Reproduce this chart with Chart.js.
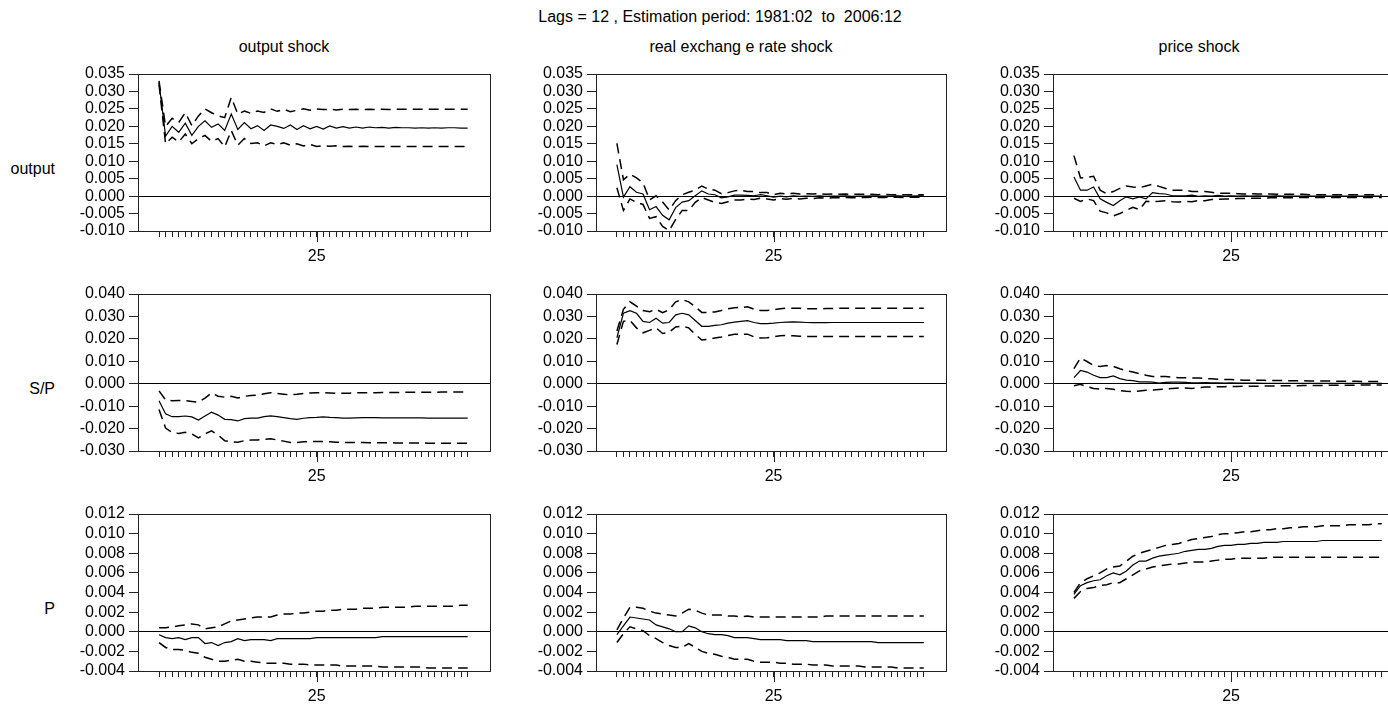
<!DOCTYPE html>
<html>
<head>
<meta charset="utf-8">
<script src="https://cdn.jsdelivr.net/npm/chart.js@4.4.1/dist/chart.umd.min.js"></script>
<style>
  html, body { margin:0; padding:0; background:#fff; width:1388px; height:707px; overflow:hidden; }
  body { position:relative; font-family:'Liberation Sans', Arial, sans-serif; color:#000; }
  .txt { position:absolute; font-size:16px; white-space:pre; line-height:1; }
  .c { transform:translate(-50%,-50%); }
  .r { transform:translate(-100%,-50%); }
  canvas { position:absolute; }
</style>
</head>
<body>
<div class="txt c" style="left:720px;top:17px;">Lags = 12 , Estimation period: 1981:02  to  2006:12</div>
<div class="txt c" style="left:284px;top:47px;">output shock</div>
<div class="txt c" style="left:741px;top:47px;">real exchang e rate shock</div>
<div class="txt c" style="left:1199px;top:47px;">price shock</div>
<div class="txt r" style="left:55px;top:169px;">output</div>
<div class="txt r" style="left:55px;top:389px;">S/P</div>
<div class="txt r" style="left:55px;top:609px;">P</div>
<script>
// ---------- DATA ----------
const periods = [1,2,3,4,5,6,7,8,9,10,11,12,13,14,15,16,17,18,19,20,21,22,23,24,25,26,27,28,29,30,31,32,33,34,35,36,37,38,39,40,41,42,43,44,45,46,47,48];
const xMajorTicks = [25];
const columnTitles = ['output shock', 'real exchang e rate shock', 'price shock'];
const rowLabels = ['output', 'S/P', 'P'];
const yTicksOutput = [-0.010,-0.005,0.000,0.005,0.010,0.015,0.020,0.025,0.030,0.035];
const yTicksSP = [-0.030,-0.020,-0.010,0.000,0.010,0.020,0.030,0.040];
const yTicksP = [-0.004,-0.002,0.000,0.002,0.004,0.006,0.008,0.010,0.012];

// output response to output shock
const out_out = [0.0325,0.0172,0.0200,0.0183,0.0209,0.0174,0.0200,0.0216,0.0197,0.0207,0.0188,0.0235,0.0191,0.0211,0.0193,0.0202,0.0188,0.0204,0.0200,0.0194,0.0204,0.0191,0.0202,0.0193,0.0200,0.0192,0.0201,0.0195,0.0199,0.0195,0.0198,0.0195,0.0198,0.0196,0.0197,0.0195,0.0197,0.0196,0.0196,0.0195,0.0196,0.0195,0.0196,0.0195,0.0196,0.0196,0.0195,0.0195];
const out_out_hi = [0.0330,0.0200,0.0223,0.0211,0.0239,0.0202,0.0230,0.0250,0.0239,0.0230,0.0225,0.0283,0.0235,0.0244,0.0237,0.0244,0.0240,0.0250,0.0243,0.0249,0.0242,0.0246,0.0250,0.0246,0.0250,0.0248,0.0249,0.0247,0.0249,0.0248,0.0249,0.0248,0.0249,0.0248,0.0249,0.0248,0.0249,0.0249,0.0249,0.0249,0.0249,0.0249,0.0249,0.0249,0.0249,0.0249,0.0249,0.0249];
const out_out_lo = [0.0320,0.0150,0.0169,0.0155,0.0178,0.0150,0.0165,0.0174,0.0157,0.0165,0.0141,0.0188,0.0146,0.0165,0.0151,0.0153,0.0144,0.0153,0.0148,0.0153,0.0146,0.0150,0.0144,0.0148,0.0142,0.0145,0.0143,0.0144,0.0142,0.0143,0.0142,0.0143,0.0142,0.0142,0.0142,0.0142,0.0142,0.0142,0.0142,0.0142,0.0142,0.0142,0.0142,0.0142,0.0142,0.0142,0.0142,0.0142];
// output response to real exchange rate shock
const out_rer = [0.0090,-0.0003,0.0027,0.0011,0.0006,-0.0039,-0.0030,-0.0055,-0.0068,-0.0033,-0.0017,-0.0013,0.0001,0.0015,0.0006,0.0004,-0.0005,-0.0002,0.0003,0.0003,0.0002,0.0001,0.0004,0.0001,-0.0003,0.0000,-0.0002,0.0001,-0.0001,0.0000,-0.0001,0.0001,-0.0001,0.0000,0.0000,0.0001,-0.0001,0.0000,0.0000,0.0001,0.0000,0.0000,0.0000,0.0001,0.0000,0.0000,0.0001,0.0001];
const out_rer_hi = [0.0151,0.0047,0.0063,0.0052,0.0038,-0.0011,0.0001,-0.0017,-0.0040,-0.0013,0.0004,0.0011,0.0017,0.0029,0.0020,0.0017,0.0007,0.0010,0.0015,0.0017,0.0013,0.0013,0.0010,0.0010,0.0004,0.0008,0.0006,0.0008,0.0006,0.0007,0.0006,0.0007,0.0005,0.0006,0.0005,0.0006,0.0005,0.0005,0.0005,0.0005,0.0004,0.0005,0.0004,0.0004,0.0004,0.0004,0.0004,0.0004];
const out_rer_lo = [0.0024,-0.0041,-0.0008,-0.0018,-0.0024,-0.0064,-0.0059,-0.0087,-0.0099,-0.0067,-0.0041,-0.0041,-0.0018,-0.0004,-0.0011,-0.0018,-0.0021,-0.0016,-0.0011,-0.0011,-0.0008,-0.0010,-0.0006,-0.0008,-0.0011,-0.0007,-0.0009,-0.0006,-0.0008,-0.0006,-0.0007,-0.0005,-0.0006,-0.0005,-0.0005,-0.0004,-0.0005,-0.0004,-0.0004,-0.0003,-0.0004,-0.0004,-0.0003,-0.0003,-0.0004,-0.0003,-0.0003,-0.0003];
// output response to price shock
const out_prc = [0.0055,0.0017,0.0017,0.0026,-0.0008,-0.0018,-0.0027,-0.0013,-0.0002,-0.0008,-0.0002,-0.0008,0.0010,0.0007,0.0006,0.0001,0.0001,0.0001,0.0003,-0.0001,0.0001,0.0000,0.0002,0.0000,0.0001,0.0000,0.0001,0.0000,0.0001,0.0000,0.0000,0.0001,0.0000,0.0000,0.0000,0.0000,0.0000,0.0000,0.0000,0.0000,0.0000,0.0000,0.0000,0.0000,0.0000,0.0000,0.0000,0.0000];
const out_prc_hi = [0.0116,0.0052,0.0054,0.0057,0.0017,0.0007,0.0013,0.0022,0.0029,0.0026,0.0024,0.0029,0.0034,0.0028,0.0022,0.0017,0.0017,0.0017,0.0013,0.0013,0.0013,0.0011,0.0008,0.0008,0.0008,0.0007,0.0006,0.0007,0.0006,0.0006,0.0006,0.0005,0.0005,0.0005,0.0005,0.0005,0.0004,0.0004,0.0004,0.0004,0.0004,0.0004,0.0004,0.0004,0.0004,0.0004,0.0004,0.0004];
const out_prc_lo = [-0.0006,-0.0015,-0.0008,-0.0013,-0.0043,-0.0048,-0.0057,-0.0050,-0.0041,-0.0032,-0.0039,-0.0015,-0.0016,-0.0015,-0.0013,-0.0016,-0.0017,-0.0015,-0.0016,-0.0013,-0.0013,-0.0010,-0.0009,-0.0008,-0.0008,-0.0007,-0.0007,-0.0006,-0.0006,-0.0006,-0.0005,-0.0005,-0.0005,-0.0005,-0.0004,-0.0004,-0.0004,-0.0004,-0.0004,-0.0004,-0.0004,-0.0004,-0.0004,-0.0004,-0.0004,-0.0004,-0.0004,-0.0004];
// S/P response to output shock
const sp_out = [-0.0076,-0.0134,-0.0147,-0.0147,-0.0144,-0.0148,-0.0162,-0.0144,-0.0127,-0.0140,-0.0159,-0.0160,-0.0166,-0.0156,-0.0153,-0.0153,-0.0147,-0.0143,-0.0147,-0.0151,-0.0156,-0.0159,-0.0154,-0.0151,-0.0150,-0.0148,-0.0150,-0.0151,-0.0153,-0.0153,-0.0152,-0.0151,-0.0151,-0.0151,-0.0152,-0.0152,-0.0152,-0.0152,-0.0152,-0.0152,-0.0152,-0.0153,-0.0153,-0.0153,-0.0153,-0.0153,-0.0153,-0.0153];
const sp_out_hi = [-0.0032,-0.0072,-0.0076,-0.0075,-0.0075,-0.0079,-0.0083,-0.0064,-0.0041,-0.0056,-0.0060,-0.0056,-0.0064,-0.0056,-0.0053,-0.0051,-0.0045,-0.0040,-0.0044,-0.0047,-0.0050,-0.0047,-0.0043,-0.0041,-0.0040,-0.0040,-0.0041,-0.0043,-0.0043,-0.0042,-0.0041,-0.0040,-0.0040,-0.0040,-0.0039,-0.0039,-0.0039,-0.0039,-0.0038,-0.0038,-0.0038,-0.0038,-0.0038,-0.0037,-0.0037,-0.0037,-0.0037,-0.0037];
const sp_out_lo = [-0.0115,-0.0198,-0.0217,-0.0222,-0.0217,-0.0224,-0.0242,-0.0224,-0.0210,-0.0229,-0.0254,-0.0260,-0.0261,-0.0254,-0.0251,-0.0251,-0.0248,-0.0245,-0.0251,-0.0256,-0.0262,-0.0262,-0.0259,-0.0258,-0.0258,-0.0258,-0.0259,-0.0261,-0.0262,-0.0262,-0.0262,-0.0262,-0.0263,-0.0263,-0.0263,-0.0263,-0.0264,-0.0264,-0.0264,-0.0264,-0.0264,-0.0265,-0.0265,-0.0265,-0.0265,-0.0265,-0.0265,-0.0265];
// S/P response to real exchange rate shock
const sp_rer = [0.0205,0.0314,0.0326,0.0314,0.0278,0.0273,0.0292,0.0270,0.0273,0.0307,0.0314,0.0307,0.0282,0.0256,0.0256,0.0260,0.0263,0.0270,0.0275,0.0278,0.0281,0.0273,0.0268,0.0268,0.0270,0.0273,0.0275,0.0276,0.0275,0.0273,0.0272,0.0272,0.0272,0.0273,0.0273,0.0273,0.0273,0.0273,0.0273,0.0273,0.0273,0.0273,0.0273,0.0273,0.0273,0.0273,0.0273,0.0273];
const sp_rer_hi = [0.0235,0.0332,0.0365,0.0346,0.0326,0.0321,0.0332,0.0317,0.0329,0.0365,0.0375,0.0365,0.0343,0.0318,0.0318,0.0320,0.0326,0.0334,0.0339,0.0340,0.0343,0.0332,0.0326,0.0326,0.0330,0.0334,0.0337,0.0337,0.0336,0.0334,0.0334,0.0334,0.0335,0.0335,0.0336,0.0336,0.0336,0.0336,0.0336,0.0337,0.0337,0.0337,0.0337,0.0337,0.0337,0.0337,0.0337,0.0337];
const sp_rer_lo = [0.0175,0.0278,0.0282,0.0249,0.0227,0.0238,0.0249,0.0224,0.0230,0.0253,0.0256,0.0249,0.0220,0.0195,0.0198,0.0204,0.0208,0.0215,0.0220,0.0220,0.0221,0.0209,0.0204,0.0205,0.0209,0.0214,0.0215,0.0214,0.0212,0.0211,0.0210,0.0210,0.0210,0.0210,0.0210,0.0210,0.0211,0.0211,0.0211,0.0211,0.0211,0.0211,0.0211,0.0211,0.0211,0.0211,0.0211,0.0211];
// S/P response to price shock
const sp_prc = [0.0027,0.0059,0.0052,0.0038,0.0027,0.0027,0.0035,0.0023,0.0016,0.0014,0.0008,0.0008,0.0007,0.0003,0.0006,0.0007,0.0007,0.0006,0.0004,0.0004,0.0005,0.0004,0.0004,0.0003,0.0004,0.0003,0.0003,0.0003,0.0003,0.0002,0.0002,0.0002,0.0002,0.0002,0.0002,0.0002,0.0002,0.0002,0.0002,0.0002,0.0002,0.0002,0.0002,0.0002,0.0002,0.0002,0.0002,0.0002];
const sp_prc_hi = [0.0067,0.0115,0.0099,0.0081,0.0077,0.0081,0.0077,0.0067,0.0058,0.0052,0.0045,0.0038,0.0032,0.0032,0.0032,0.0029,0.0027,0.0027,0.0026,0.0026,0.0023,0.0022,0.0020,0.0019,0.0019,0.0017,0.0016,0.0016,0.0015,0.0015,0.0014,0.0014,0.0014,0.0013,0.0013,0.0013,0.0012,0.0012,0.0012,0.0012,0.0011,0.0011,0.0011,0.0011,0.0010,0.0010,0.0010,0.0010];
const sp_prc_lo = [-0.0009,-0.0003,-0.0013,-0.0021,-0.0024,-0.0021,-0.0025,-0.0031,-0.0034,-0.0035,-0.0032,-0.0029,-0.0028,-0.0026,-0.0024,-0.0021,-0.0019,-0.0019,-0.0021,-0.0018,-0.0015,-0.0015,-0.0013,-0.0013,-0.0012,-0.0012,-0.0011,-0.0011,-0.0011,-0.0010,-0.0010,-0.0010,-0.0009,-0.0009,-0.0009,-0.0008,-0.0008,-0.0008,-0.0008,-0.0007,-0.0007,-0.0007,-0.0007,-0.0007,-0.0006,-0.0006,-0.0006,-0.0006];
// P response to output shock
const p_out = [-0.0003,-0.0006,-0.0007,-0.0006,-0.0008,-0.0006,-0.0006,-0.0012,-0.0011,-0.0014,-0.0011,-0.0010,-0.0007,-0.0009,-0.0008,-0.0008,-0.0008,-0.0009,-0.0007,-0.0007,-0.0007,-0.0007,-0.0007,-0.0007,-0.0006,-0.0006,-0.0006,-0.0006,-0.0006,-0.0006,-0.0006,-0.0006,-0.0006,-0.0006,-0.0005,-0.0005,-0.0005,-0.0005,-0.0005,-0.0005,-0.0005,-0.0005,-0.0005,-0.0005,-0.0005,-0.0005,-0.0005,-0.0005];
const p_out_hi = [0.0004,0.0004,0.0005,0.0006,0.0007,0.0008,0.0007,0.0003,0.0004,0.0005,0.0008,0.0011,0.0012,0.0013,0.0014,0.0015,0.0015,0.0015,0.0017,0.0018,0.0018,0.0019,0.0019,0.0020,0.0021,0.0021,0.0022,0.0022,0.0023,0.0023,0.0023,0.0024,0.0024,0.0024,0.0025,0.0025,0.0025,0.0025,0.0025,0.0026,0.0026,0.0026,0.0026,0.0026,0.0026,0.0026,0.0027,0.0027];
const p_out_lo = [-0.0011,-0.0016,-0.0018,-0.0018,-0.0019,-0.0021,-0.0022,-0.0026,-0.0028,-0.0030,-0.0030,-0.0029,-0.0028,-0.0030,-0.0030,-0.0031,-0.0032,-0.0032,-0.0032,-0.0032,-0.0033,-0.0033,-0.0033,-0.0034,-0.0034,-0.0034,-0.0034,-0.0034,-0.0035,-0.0035,-0.0035,-0.0035,-0.0035,-0.0035,-0.0036,-0.0036,-0.0036,-0.0036,-0.0036,-0.0036,-0.0036,-0.0037,-0.0037,-0.0037,-0.0037,-0.0037,-0.0037,-0.0037];
// P response to real exchange rate shock
const p_rer = [-0.0003,0.0006,0.0015,0.0014,0.0013,0.0012,0.0007,0.0005,0.0003,0.0000,0.0000,0.0006,0.0004,0.0000,-0.0002,-0.0003,-0.0003,-0.0004,-0.0006,-0.0006,-0.0006,-0.0007,-0.0008,-0.0008,-0.0008,-0.0008,-0.0009,-0.0009,-0.0009,-0.0009,-0.0010,-0.0010,-0.0010,-0.0010,-0.0010,-0.0010,-0.0010,-0.0010,-0.0010,-0.0010,-0.0011,-0.0011,-0.0011,-0.0011,-0.0011,-0.0011,-0.0011,-0.0011];
const p_rer_hi = [0.0002,0.0014,0.0025,0.0025,0.0024,0.0021,0.0019,0.0018,0.0017,0.0016,0.0019,0.0023,0.0022,0.0019,0.0017,0.0017,0.0017,0.0016,0.0016,0.0015,0.0016,0.0015,0.0015,0.0015,0.0015,0.0015,0.0015,0.0015,0.0015,0.0015,0.0015,0.0015,0.0016,0.0016,0.0016,0.0016,0.0016,0.0016,0.0016,0.0016,0.0016,0.0016,0.0016,0.0016,0.0016,0.0016,0.0016,0.0016];
const p_rer_lo = [-0.0011,-0.0002,0.0005,0.0003,0.0001,-0.0004,-0.0007,-0.0011,-0.0014,-0.0016,-0.0016,-0.0012,-0.0016,-0.0020,-0.0022,-0.0023,-0.0025,-0.0026,-0.0028,-0.0028,-0.0028,-0.0030,-0.0031,-0.0031,-0.0031,-0.0032,-0.0032,-0.0033,-0.0033,-0.0033,-0.0034,-0.0034,-0.0034,-0.0035,-0.0035,-0.0035,-0.0035,-0.0035,-0.0036,-0.0036,-0.0036,-0.0036,-0.0036,-0.0037,-0.0037,-0.0037,-0.0037,-0.0037];
// P response to price shock
const p_prc = [0.0038,0.0047,0.0050,0.0052,0.0053,0.0057,0.0060,0.0058,0.0062,0.0068,0.0072,0.0072,0.0075,0.0077,0.0078,0.0079,0.0080,0.0082,0.0083,0.0084,0.0084,0.0085,0.0087,0.0088,0.0088,0.0089,0.0089,0.0090,0.0090,0.0091,0.0091,0.0091,0.0092,0.0092,0.0092,0.0092,0.0092,0.0092,0.0093,0.0093,0.0093,0.0093,0.0093,0.0093,0.0093,0.0093,0.0093,0.0093];
const p_prc_hi = [0.0040,0.0050,0.0054,0.0057,0.0060,0.0064,0.0066,0.0067,0.0072,0.0077,0.0080,0.0082,0.0084,0.0086,0.0088,0.0089,0.0090,0.0092,0.0094,0.0095,0.0096,0.0097,0.0099,0.0100,0.0100,0.0101,0.0102,0.0102,0.0103,0.0104,0.0104,0.0105,0.0105,0.0106,0.0106,0.0107,0.0107,0.0107,0.0108,0.0108,0.0108,0.0108,0.0109,0.0109,0.0109,0.0109,0.0110,0.0110];
const p_prc_lo = [0.0034,0.0041,0.0044,0.0045,0.0047,0.0048,0.0050,0.0050,0.0054,0.0058,0.0062,0.0064,0.0066,0.0067,0.0068,0.0069,0.0069,0.0070,0.0071,0.0071,0.0071,0.0072,0.0073,0.0074,0.0074,0.0075,0.0075,0.0075,0.0075,0.0075,0.0076,0.0076,0.0076,0.0076,0.0076,0.0076,0.0076,0.0076,0.0076,0.0076,0.0076,0.0076,0.0076,0.0076,0.0076,0.0076,0.0076,0.0076];

// ---------- LAYOUT ----------
const colLeft = [138, 596, 1053];
const colWidth = [352, 350, 351];
const rowTop = [70, 290, 510];
const areaH = 161;
const YW = 70, PT = 8, PR = 6, XH = 40;
const xMin = -2.2, xMax = 51.4;

const panels = [
  [[out_out, out_out_hi, out_out_lo], [out_rer, out_rer_hi, out_rer_lo], [out_prc, out_prc_hi, out_prc_lo]],
  [[sp_out, sp_out_hi, sp_out_lo], [sp_rer, sp_rer_hi, sp_rer_lo], [sp_prc, sp_prc_hi, sp_prc_lo]],
  [[p_out, p_out_hi, p_out_lo], [p_rer, p_rer_hi, p_rer_lo], [p_prc, p_prc_hi, p_prc_lo]]
];
const rowTicks = [yTicksOutput, yTicksSP, yTicksP];

const FONT = "'Liberation Sans', Arial, sans-serif";
const AXIS = '#222';

const majorTickPlugin = {
  id: 'majorTick',
  afterDraw(chart) {
    const xs = chart.scales.x, ctx = chart.ctx, b = chart.chartArea.bottom;
    ctx.save();
    ctx.strokeStyle = AXIS; ctx.lineWidth = 1;
    xMajorTicks.forEach(v => {
      const px = Math.round(xs.getPixelForValue(v)) + 0.5;
      ctx.beginPath(); ctx.moveTo(px, b); ctx.lineTo(px, b + 11); ctx.stroke();
    });
    ctx.restore();
  }
};

function toPts(arr) { return arr.map((v, i) => ({ x: periods[i], y: v })); }

for (let r = 0; r < 3; r++) {
  for (let c = 0; c < 3; c++) {
    const [mid, hi, lo] = panels[r][c];
    const ticks = rowTicks[r];
    const cv = document.createElement('canvas');
    const w = YW + colWidth[c] + PR, h = PT + areaH + XH;
    cv.width = w; cv.height = h;
    cv.style.left = (colLeft[c] - YW) + 'px';
    cv.style.top = (rowTop[r] - PT) + 'px';
    cv.style.width = w + 'px'; cv.style.height = h + 'px';
    document.body.appendChild(cv);
    new Chart(cv, {
      type: 'line',
      data: {
        datasets: [
          { data: toPts(hi), borderColor: '#000', borderWidth: 1.5, borderDash: [10, 6], pointRadius: 0, fill: false, tension: 0 },
          { data: toPts(lo), borderColor: '#000', borderWidth: 1.5, borderDash: [10, 6], pointRadius: 0, fill: false, tension: 0 },
          { data: toPts(mid), borderColor: '#000', borderWidth: 1.2, pointRadius: 0, fill: false, tension: 0 }
        ]
      },
      plugins: [majorTickPlugin],
      options: {
        responsive: false, animation: false, devicePixelRatio: 1,
        layout: { padding: { top: PT, right: PR, left: 0, bottom: 0 } },
        plugins: { legend: { display: false }, tooltip: { enabled: false }, title: { display: false } },
        scales: {
          x: {
            type: 'linear', position: 'bottom', min: xMin, max: xMax,
            afterBuildTicks: s => { s.ticks = periods.map(v => ({ value: v })); },
            afterFit: s => { s.height = XH; },
            ticks: { autoSkip: false, maxRotation: 0, padding: 10, color: '#000',
              font: { family: FONT, size: 16 },
              callback: v => xMajorTicks.includes(v) ? String(v) : '' },
            grid: { drawOnChartArea: false, drawTicks: true, tickLength: 6, tickColor: AXIS, color: AXIS },
            border: { display: true, color: AXIS, width: 1 }
          },
          xT: {
            type: 'linear', position: 'top', min: 0, max: 1,
            afterFit: s => { s.height = 0; },
            ticks: { display: false },
            grid: { drawOnChartArea: false, drawTicks: false },
            border: { display: true, color: AXIS, width: 1 }
          },
          y: {
            type: 'linear', position: 'left', min: ticks[0], max: ticks[ticks.length - 1],
            afterBuildTicks: s => { s.ticks = ticks.map(v => ({ value: v })); },
            afterFit: s => { s.width = YW; },
            ticks: { autoSkip: false, padding: 4, color: '#000', font: { family: FONT, size: 16, lineHeight: 1 },
              callback: v => (Math.abs(v) < 1e-12 ? 0 : v).toFixed(3) },
            grid: { drawOnChartArea: true, drawTicks: true, tickLength: 9, tickColor: AXIS,
              color: ctx => (ctx.tick && Math.abs(ctx.tick.value) < 1e-12) ? '#000' : 'rgba(0,0,0,0)', lineWidth: 1 },
            border: { display: true, color: AXIS, width: 1 }
          },
          yR: {
            type: 'linear', position: 'right', min: 0, max: 1,
            afterFit: s => { s.width = 0; },
            ticks: { display: false },
            grid: { drawOnChartArea: false, drawTicks: false },
            border: { display: true, color: AXIS, width: 1 }
          }
        }
      }
    });
  }
}
</script>
</body>
</html>
